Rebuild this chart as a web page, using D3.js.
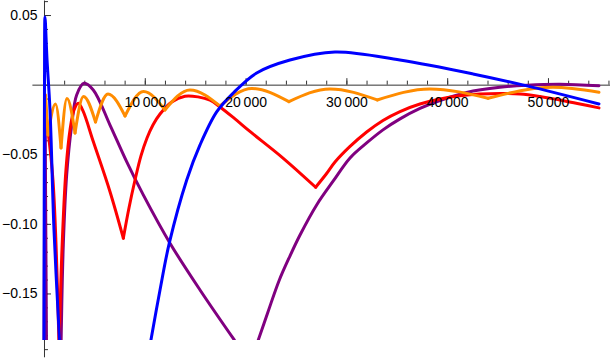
<!DOCTYPE html>
<html>
<head>
<meta charset="utf-8">
<script src="https://cdn.jsdelivr.net/npm/d3@7"></script>
<style>
  body { margin: 0; background: #fff; }
  text { font-family: "Liberation Sans", Arial, sans-serif; font-size: 14px; fill: #000; }
</style>
</head>
<body>
<script>
var width = 610,
    height = 360;

// ticks
var xMajor = [10000, 20000, 30000, 40000, 50000];
var xMinor = d3.range(2000, 56001, 2000);
var yMajor = [0.05, -0.05, -0.10, -0.15];
var yMinor = d3.range(-0.19, 0.065, 0.01);

// curves, [x, y]; null = gap, corners = x values with a sharp kink
var blue = [
  [0, -0.184], [50, 0], [100, 0.0486], [300, 0.018], [595, -0.018], [990, -0.104], [1540, -0.184],
  null,
  [10610, -0.1834], [11510, -0.1475], [12430, -0.1139], [14160, -0.0685], [15480, -0.0433],
  [17130, -0.0196], [18780, -0.0060], [21100, 0.0084], [24400, 0.0177],
  [28870, 0.0235], [35310, 0.0177], [42560, 0.0077], [47910, -0.0009], [55060, -0.0139]
];
var blueCorners = [];

var orange = [
  [150, -0.0074], [400, -0.0361], [1140, -0.0139], [1690, -0.0455], [2280, -0.0099],
  [3080, -0.0347], [3920, -0.0085], [5110, -0.0268], [6350, -0.0067], [8040, -0.0225],
  [9870, -0.0049], [12000, -0.0182], [14480, -0.0038], [17460, -0.0153], [20630, -0.0027],
  [24300, -0.0122], [28370, -0.0031], [33060, -0.0110], [38290, -0.0031], [44050, -0.0098],
  [50490, -0.0019], [55060, -0.0055]
];
var orangeCorners = [400, 1690, 3080, 5110, 8040, 12000, 17460, 24300, 33060, 44050];

var red = [
  [100, -0.0146], [270, -0.0254], [890, -0.0685], [1500, -0.19], [1780, -0.119],
  [2180, -0.061], [2580, -0.0325], [2980, -0.0182], [3400, -0.0134], [3870, -0.0189],
  [4890, -0.0409], [6550, -0.0769], [7870, -0.1103],
  [8430, -0.0886], [9030, -0.0685], [9620, -0.0512], [10220, -0.0383], [10810, -0.0290],
  [11510, -0.0211], [12670, -0.0124], [13990, -0.0083], [15280, -0.0088], [16470, -0.0112],
  [17460, -0.0160], [18950, -0.0246], [20430, -0.0336], [23740, -0.0529], [26950, -0.0737],
  [28000, -0.0642], [28870, -0.0556], [30360, -0.0444], [32010, -0.0340], [33630, -0.0257],
  [35320, -0.0193], [37300, -0.0139], [39280, -0.0103], [41270, -0.0080], [43250, -0.0067],
  [45240, -0.0063], [47220, -0.0067], [49200, -0.0085], [51190, -0.0110], [53170, -0.0139],
  [55060, -0.0167]
];
var redCorners = [1500, 7870, 26950];

var purple = [
  [0, -0.19], [100, -0.008], [250, -0.19],
  null,
  [1700, -0.184], [1915, -0.1152], [2250, -0.0649], [2750, -0.029], [3240, -0.0074],
  [3970, 0.0010], [4890, -0.0038], [6550, -0.029], [8200, -0.0553], [9850, -0.0792],
  [12500, -0.1139], [15480, -0.1475], [18880, -0.1834],
  null,
  [21260, -0.1834], [22220, -0.1633], [23310, -0.1410], [24400, -0.1231], [25400, -0.1080],
  [27050, -0.0864], [28700, -0.0692], [30360, -0.0527],
  [32010, -0.0419], [33630, -0.0325], [35320, -0.0246], [37300, -0.0171], [39280, -0.0114],
  [41930, -0.0056], [45240, -0.0019], [47910, -0.0004], [51190, 0.0003], [55060, -0.0008]
];
var purpleCorners = [100];

var svg = d3.select("body")
  .append("svg")
  .attr("width", width)
  .attr("height", height);

var x = d3.scaleLinear().domain([-1200, 56500]).range([31.9, 613.5]);
var y = d3.scaleLinear().domain([-0.1955, 0.0608]).range([356.8, 0]);

// axis lines and ticks (under the curves)
svg.append("g")
  .attr("transform", "translate(0," + y(0) + ")")
  .call(d3.axisBottom(x).tickValues(xMinor).tickSize(-4).tickSizeOuter(0).tickFormat(""));
svg.append("g")
  .attr("transform", "translate(0," + y(0) + ")")
  .call(d3.axisBottom(x).tickValues(xMajor).tickSize(-6.5).tickSizeOuter(0).tickFormat(""))
  .select(".domain").remove();
svg.append("g")
  .attr("transform", "translate(" + x(0) + ",0)")
  .call(d3.axisLeft(y).tickValues(yMinor).tickSize(-4).tickSizeOuter(0).tickFormat(""));
svg.append("g")
  .attr("transform", "translate(" + x(0) + ",0)")
  .call(d3.axisLeft(y).tickValues(yMajor).tickSize(-7).tickSizeOuter(0).tickFormat(""))
  .select(".domain").remove();
svg.selectAll(".domain, .tick line").attr("stroke", "#333");

// curves
svg.append("clipPath").attr("id", "clip")
  .append("rect").attr("x", 0).attr("y", -10).attr("width", width).attr("height", y(-0.1835) + 10);

function makeLine(curve) {
  return d3.line()
    .x(function(d) { return x(d[0]); })
    .y(function(d) { return y(d[1]); })
    .curve(curve);
}

function pieces(pts, corners) {
  var out = [], cur = [];
  pts.forEach(function(p) {
    if (p === null) {
      if (cur.length > 1) out.push(cur);
      cur = [];
      return;
    }
    cur.push(p);
    if (cur.length > 1 && corners.indexOf(p[0]) >= 0) {
      out.push(cur);
      cur = [p];
    }
  });
  if (cur.length > 1) out.push(cur);
  return out;
}

var smooth = d3.curveCatmullRom.alpha(0.5);
var series = [
  { pts: purple, corners: purpleCorners, color: "#800080", curve: smooth },
  { pts: red, corners: redCorners, color: "#ff0000", curve: smooth },
  { pts: orange, corners: orangeCorners, color: "#ff8c00", curve: d3.curveMonotoneX },
  { pts: blue, corners: blueCorners, color: "#0000ff", curve: smooth }
];

var curves = svg.append("g").attr("clip-path", "url(#clip)");
series.forEach(function(s) {
  curves.append("g").selectAll("path")
    .data(pieces(s.pts, s.corners))
    .enter().append("path")
    .attr("d", makeLine(s.curve))
    .attr("fill", "none")
    .attr("stroke", s.color)
    .attr("stroke-width", 3)
    .attr("stroke-linejoin", "round")
    .attr("stroke-linecap", "round");
});

// tick labels on top
var xl = svg.append("g")
  .attr("transform", "translate(0," + y(0) + ")")
  .call(d3.axisBottom(x).tickValues(xMajor).tickSize(0).tickPadding(12)
    .tickFormat(function(d) { return d3.format(",")(d).replace(",", "\u2009"); }));
xl.select(".domain").remove();
var yl = svg.append("g")
  .attr("transform", "translate(" + x(0) + ",0)")
  .call(d3.axisLeft(y).tickValues(yMajor).tickSize(0).tickPadding(6.5).tickFormat(d3.format(".2f")));
yl.select(".domain").remove();
svg.selectAll("text").attr("font-family", null).attr("font-size", null);
</script>
</body>
</html>
